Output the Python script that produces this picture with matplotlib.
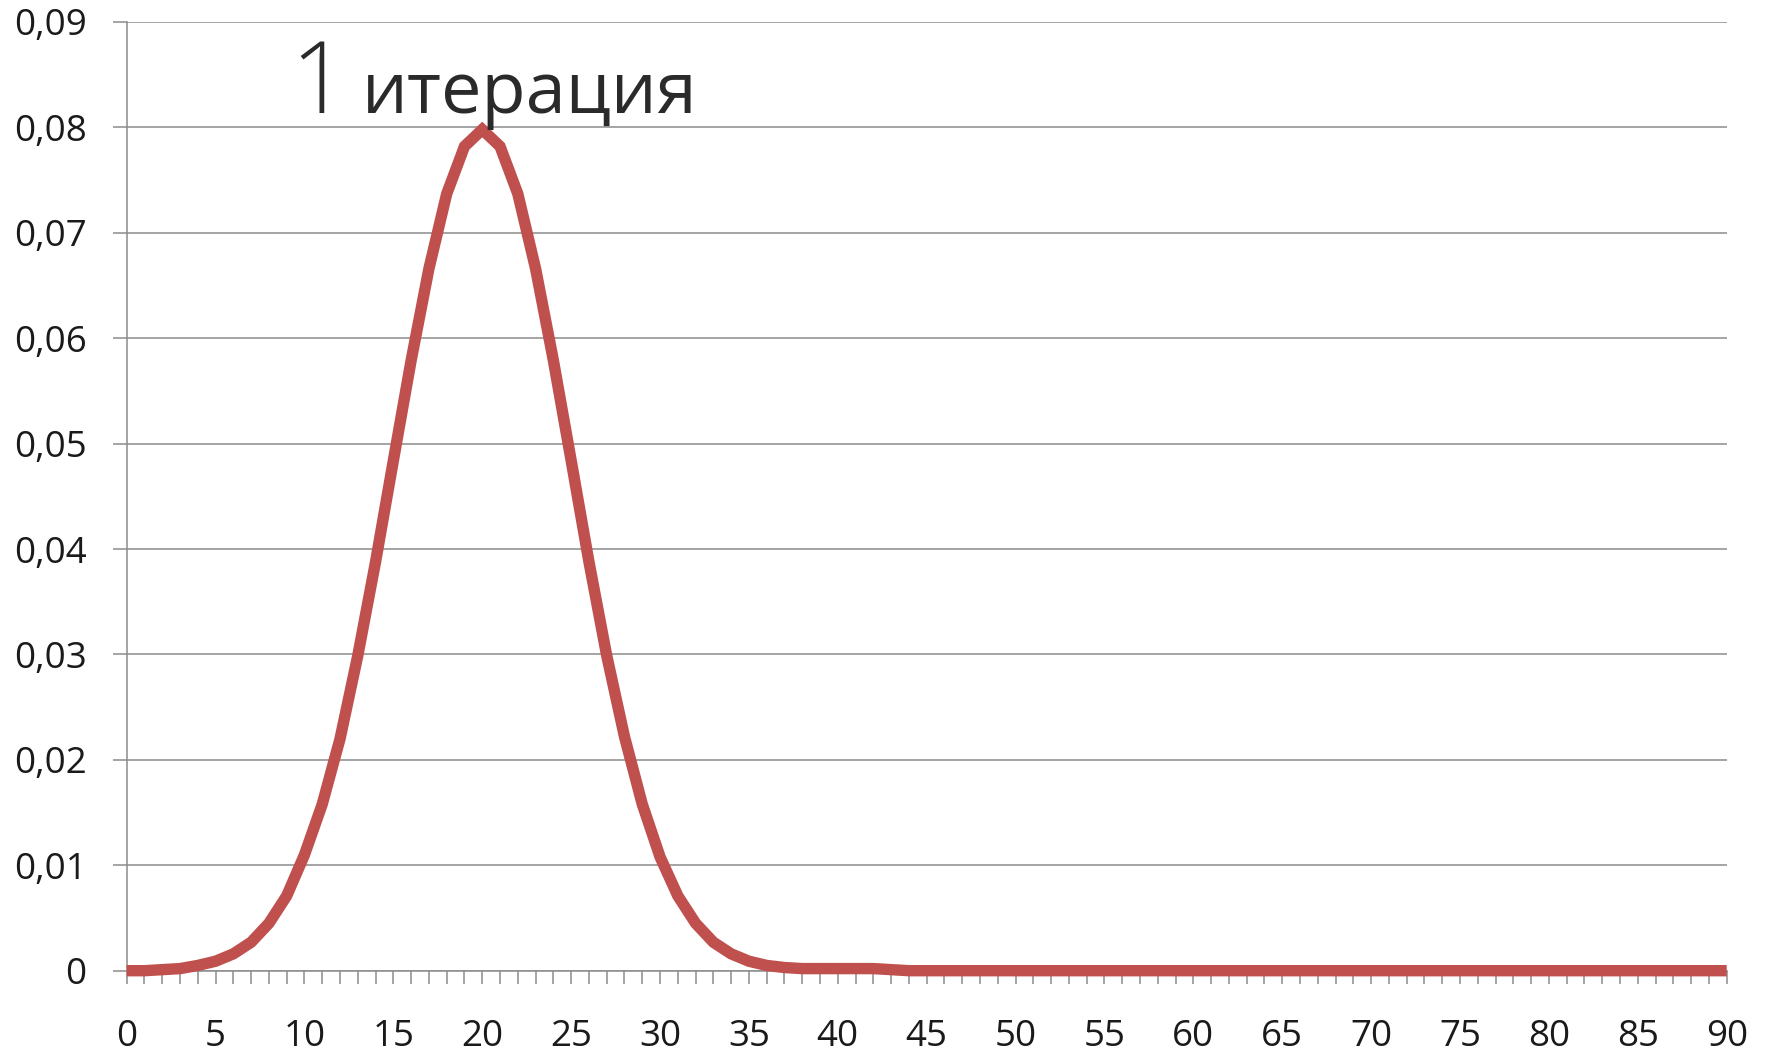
import matplotlib
matplotlib.use("Agg")
import matplotlib.pyplot as plt
from matplotlib.ticker import MultipleLocator, FuncFormatter

# ---- data ----
x_values = list(range(0, 91))
left_tail = [0.0000, 0.0000, 0.0001, 0.0002, 0.0005, 0.0009, 0.0016, 0.0027, 0.0045, 0.0071,
             0.0110, 0.0158, 0.0220, 0.0299, 0.0388, 0.0484, 0.0579, 0.0666, 0.0737, 0.0782]
peak = [0.0798]
right_tail = [0.0782, 0.0737, 0.0666, 0.0579, 0.0484, 0.0388, 0.0299, 0.0222, 0.0158, 0.0108,
              0.0071, 0.0045, 0.0027, 0.0016, 0.0009, 0.0005, 0.0003, 0.0002, 0.0002, 0.0002,
              0.0002, 0.0002, 0.0001]
flat_tail = [0.0] * (91 - len(left_tail) - len(peak) - len(right_tail))
y_values = left_tail + peak + right_tail + flat_tail

y_ticks = [0.0, 0.01, 0.02, 0.03, 0.04, 0.05, 0.06, 0.07, 0.08, 0.09]
x_major = list(range(0, 91, 5))
title_number = "1"
title_word = "итерация"

# ---- figure ----
W, H = 1773, 1060
fig = plt.figure(figsize=(W / 100, H / 100), dpi=100)
ax = fig.add_axes([126.7 / W, 1 - 970.7 / H, 1600 / W, (970.7 - 22) / H])

grid_col = "#8c8c8c"
ax.plot(x_values, y_values, color="#C0504D", lw=8.2, solid_capstyle="butt",
        solid_joinstyle="miter", clip_on=False, zorder=3)

ax.set_xlim(0, 90)
ax.set_ylim(0, 0.09)

ax.set_yticks(y_ticks)
ax.yaxis.grid(True, color=grid_col, lw=1.1)
ax.set_axisbelow(True)

def yfmt(v, pos):
    if abs(v) < 1e-12:
        return "0"
    return ("%.2f" % v).replace(".", ",")

ax.yaxis.set_major_formatter(FuncFormatter(yfmt))
ax.set_xticks(x_major)
ax.xaxis.set_minor_locator(MultipleLocator(1))

for s in ["top", "right"]:
    ax.spines[s].set_visible(False)
for s in ["left", "bottom"]:
    ax.spines[s].set_color(grid_col)
    ax.spines[s].set_linewidth(1.1)

ax.tick_params(axis="y", which="major", direction="out", length=10, width=1.1,
               color=grid_col, pad=19, labelsize=26.5, labelcolor="#1a1a1a")
ax.tick_params(axis="x", which="both", direction="out", length=9, width=1.1,
               color=grid_col, pad=26, labelsize=26.5, labelcolor="#1a1a1a")

for lab in ax.get_xticklabels() + ax.get_yticklabels():
    lab.set_fontfamily(["Open Sans", "DejaVu Sans"])

# handwritten-style annotation
fig.text(290 / W, 1 - 113 / H, title_number, fontsize=72, color="#2a2a2a",
         family=["Open Sans", "DejaVu Sans"], fontweight="light", ha="left", va="baseline")
fig.text(362 / W, 1 - 113 / H, title_word, fontsize=52, color="#2a2a2a",
         family=["Open Sans", "DejaVu Sans"], fontweight="normal", ha="left", va="baseline")

fig.savefig("out.png", dpi=100, facecolor="white")
